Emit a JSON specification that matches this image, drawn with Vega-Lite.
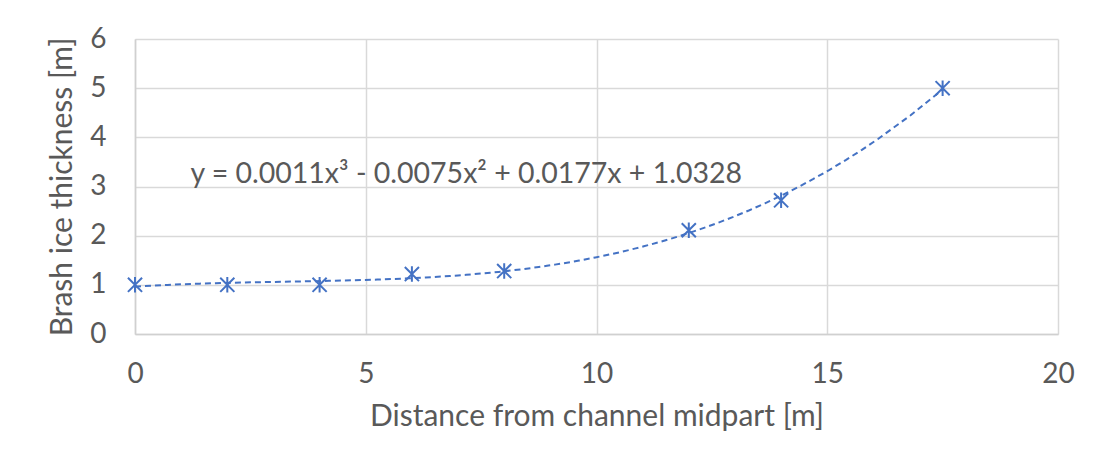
{
  "$schema": "https://vega.github.io/schema/vega-lite/v6.json",
  "width": 923,
  "height": 295,
  "autosize": {"type": "none"},
  "padding": {"left": 135, "top": 39, "right": 38, "bottom": 137},
  "background": "white",
  "config": {
    "font": "Lato",
    "view": {"stroke": null},
    "axis": {
      "labelFont": "Lato",
      "titleFont": "Lato",
      "labelFontSize": 28,
      "titleFontSize": 30,
      "labelColor": "#595959",
      "titleColor": "#595959",
      "titleFontWeight": "normal",
      "gridColor": "#d9d9d9",
      "gridWidth": 1.5,
      "domainColor": "#d0d0d0",
      "domainWidth": 1.5,
      "ticks": false,
      "labelFlush": false,
      "labelOverlap": false
    }
  },
  "data": {
    "values": [
      {"distance": 0, "thickness": 1.0},
      {"distance": 2, "thickness": 1.0},
      {"distance": 4, "thickness": 1.0},
      {"distance": 6, "thickness": 1.22},
      {"distance": 8, "thickness": 1.28},
      {"distance": 12, "thickness": 2.11},
      {"distance": 14, "thickness": 2.72},
      {"distance": 17.5, "thickness": 5.0}
    ]
  },
  "layer": [
    {
      "transform": [
        {"regression": "thickness", "on": "distance", "method": "poly", "order": 3}
      ],
      "mark": {"type": "line", "strokeDash": [6, 4], "strokeWidth": 2, "color": "#4472C4"},
      "encoding": {
        "x": {
          "field": "distance", "type": "quantitative",
          "scale": {"domain": [0, 20], "nice": false, "zero": false},
          "axis": {"values": [0, 5, 10, 15, 20], "title": "Distance from channel midpart [m]", "labelPadding": 26, "titlePadding": 13}
        },
        "y": {
          "field": "thickness", "type": "quantitative",
          "scale": {"domain": [0, 6], "nice": false},
          "axis": {"values": [0, 1, 2, 3, 4, 5, 6], "title": "Brash ice thickness [m]", "labelPadding": 29, "titlePadding": 12}
        }
      }
    },
    {
      "mark": {
        "type": "point",
        "shape": "M-1,-1L1,1M-1,1L1,-1M0,-1.1L0,1.1",
        "filled": false,
        "stroke": "#4472C4",
        "strokeWidth": 2,
        "size": 200,
        "opacity": 1
      },
      "encoding": {
        "x": {"field": "distance", "type": "quantitative"},
        "y": {"field": "thickness", "type": "quantitative"}
      }
    },
    {
      "data": {"values": [{"lx": 1.2, "ly": 3.25, "label": "y = 0.0011x³ - 0.0075x² + 0.0177x + 1.0328"}]},
      "mark": {"type": "text", "align": "left", "baseline": "middle", "fontSize": 28.5, "font": "Lato", "color": "#595959"},
      "encoding": {
        "x": {"field": "lx", "type": "quantitative"},
        "y": {"field": "ly", "type": "quantitative"},
        "text": {"field": "label"}
      }
    }
  ]
}
